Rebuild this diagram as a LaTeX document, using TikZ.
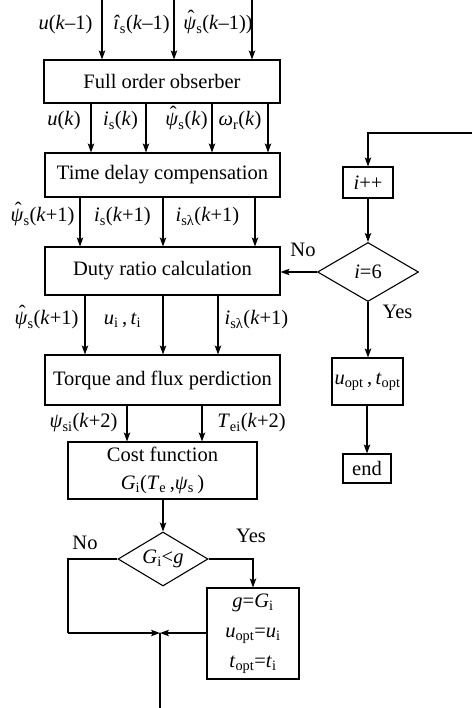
\documentclass[tikz,border=0pt]{standalone}
\usepackage{fontspec}
\setmainfont{Liberation Serif}
\usetikzlibrary{shapes.geometric,arrows.meta}
\newcommand\iv[1]{\textit{#1}}
\newcommand\sbs[1]{\textsubscript{#1}}
\newcommand\hpsi{{\ooalign{\textit{ψ}\cr\hidewidth\kern.12em\raisebox{.28em}{ˆ}\hidewidth\cr}}}
\newcommand\hati{\textit{î}}
\begin{document}
\begin{tikzpicture}[x=1pt,y=-1pt,
  font=\fontsize{20.5}{24}\selectfont,
  line width=1.1pt,
  arr/.style={-{Stealth[length=9pt,width=6.5pt,inset=2pt]}},
  box/.style={draw,rectangle,inner sep=0pt,align=center},
  dia/.style={draw,diamond,inner sep=0pt,aspect=1.7},
  lab/.style={inner sep=0pt}]
\useasboundingbox (0,0) rectangle (472,708);
% main column boxes
\node[box,minimum width=236pt,minimum height=43pt] (fo) at (162,81.5) {Full order obserber};
\node[box,minimum width=235pt,minimum height=44pt] (tdc) at (162.5,175) {Time delay compensation};
\node[box,minimum width=235pt,minimum height=48pt] (drc) at (162.5,271) {Duty ratio calculation};
\node[box,minimum width=235pt,minimum height=50pt] (tfp) at (162.5,380) {Torque and flux perdiction};
\node[box,minimum width=189pt,minimum height=57pt,font=\fontsize{20.5}{28}\selectfont] (cf) at (162.5,470.5) {Cost function\\\iv{G}\sbs{i}(\iv{T}\sbs{e}\,,\iv{ψ}\sbs{s}\,)};
\node[dia,minimum width=90pt,minimum height=54pt] (d1) at (163,559) {\iv{G}\sbs{i}<\iv{g}};
\node[box,minimum width=92pt,minimum height=91pt,font=\fontsize{20.5}{30}\selectfont] (upd) at (253,633.5) {\iv{g}=\iv{G}\sbs{i}\\\iv{u}\sbs{opt}=\iv{u}\sbs{i}\\\iv{t}\sbs{opt}=\iv{t}\sbs{i}};
% right column
\node[box,minimum width=50pt,minimum height=31pt] (inc) at (368,182.5) {\iv{i}++};
\node[dia,minimum width=101pt,minimum height=59pt] (d2) at (368,272) {\iv{i}=6};
\node[box,minimum width=71pt,minimum height=47pt] (opt) at (367.5,381.5) {\iv{u}\sbs{opt}\,,\,\iv{t}\sbs{opt}};
\node[box,minimum width=48pt,minimum height=29pt] (end) at (367,468.5) {end};
% coordinates
\coordinate (in1) at (102,0);
\coordinate (in2) at (174,0);
\coordinate (in3) at (252,0);
\coordinate (a1) at (91,0);
\coordinate (a2) at (146,0);
\coordinate (a3) at (212,0);
\coordinate (a4) at (268,0);
\coordinate (b1) at (80,0);
\coordinate (b2) at (163,0);
\coordinate (b3) at (255,0);
\coordinate (c1) at (85,0);
\coordinate (c2) at (163,0);
\coordinate (c3) at (218,0);
\coordinate (e1) at (127,0);
\coordinate (e2) at (202,0);
\coordinate (f1) at (163,0);
\coordinate (top) at (472,133);
\coordinate (ltop) at (368,133);
\coordinate (jn) at (160,633);
\coordinate (nl) at (68,559);
\coordinate (nb) at (68,633);
\coordinate (yr) at (253,559);
\coordinate (out) at (160,708);
% top inputs
\draw[arr] (in1) -- (in1 |- fo.north);
\draw[arr] (in2) -- (in2 |- fo.north);
\draw[arr] (in3) -- (in3 |- fo.north);
\node[lab] (l1) at (65.5,25) {\iv{u}(\iv{k}–1)};
\node[lab] (l2) at (141.5,25) {\hati\sbs{s}(\iv{k}–1)};
\node[lab] (l3) at (218,25) {\hpsi\sbs{s}(\iv{k}–1))};
% fo -> tdc
\foreach \c in {a1,a2,a3,a4} \draw[arr] (fo.south -| \c) -- (tdc.north -| \c);
\node[lab] (l4) at (64,121) {\iv{u}(\iv{k})};
\node[lab] (l5) at (120.5,121) {\iv{i}\sbs{s}(\iv{k})};
\node[lab] (l6) at (186.5,121) {\hpsi\sbs{s}(\iv{k})};
\node[lab] (l7) at (240,121) {\iv{ω}\sbs{r}(\iv{k})};
% tdc -> drc
\foreach \c in {b1,b2,b3} \draw[arr] (tdc.south -| \c) -- (drc.north -| \c);
\node[lab] (l8) at (42.5,217) {\hpsi\sbs{s}(\iv{k}+1)};
\node[lab] (l9) at (122.5,217) {\iv{i}\sbs{s}(\iv{k}+1)};
\node[lab] (l10) at (207.5,217) {\iv{i}\sbs{sλ}(\iv{k}+1)};
% drc -> tfp
\foreach \c in {c1,c2,c3} \draw[arr] (drc.south -| \c) -- (tfp.north -| \c);
\node[lab] (l11) at (46.5,320) {\hpsi\sbs{s}(\iv{k}+1)};
\node[lab] (l12) at (122.5,320) {\iv{u}\sbs{i}\,,\,\iv{t}\sbs{i}};
\node[lab] (l13) at (256.5,320) {\iv{i}\sbs{sλ}(\iv{k}+1)};
% tfp -> cf
\foreach \c in {e1,e2} \draw[arr] (tfp.south -| \c) -- (cf.north -| \c);
\node[lab] (l14) at (83.5,423) {\iv{ψ}\sbs{si}(\iv{k}+2)};
\node[lab] (l15) at (251.5,423) {\iv{T}\sbs{ei}(\iv{k}+2)};
% cf -> d1
\draw[arr] (cf.south -| f1) -- (d1.north);
% decision branches
\draw (d1.west) -- (nl) -- (nb);
\draw[arr] (nb) -- (jn);
\draw[arr] (d1.east) -- (yr) -- (upd.north -| yr);
\draw[arr] (upd.west |- jn) -- (jn);
\draw (jn) -- (out);
\node[lab] (no1) at (85,543) {No};
\node[lab] (yes1) at (251,536) {Yes};
% right column connectors
\draw[arr] (top) -- (ltop) -- (inc.north);
\draw[arr] (inc.south) -- (d2.north);
\draw[arr] (d2.west) -- (drc.east |- d2.west);
\draw[arr] (d2.south) -- (opt.north -| d2.south);
\draw[arr] (opt.south -| end.north) -- (end.north);
\node[lab] (no2) at (303,250) {No};
\node[lab] (yes2) at (397.5,312) {Yes};
\end{tikzpicture}
\end{document}
